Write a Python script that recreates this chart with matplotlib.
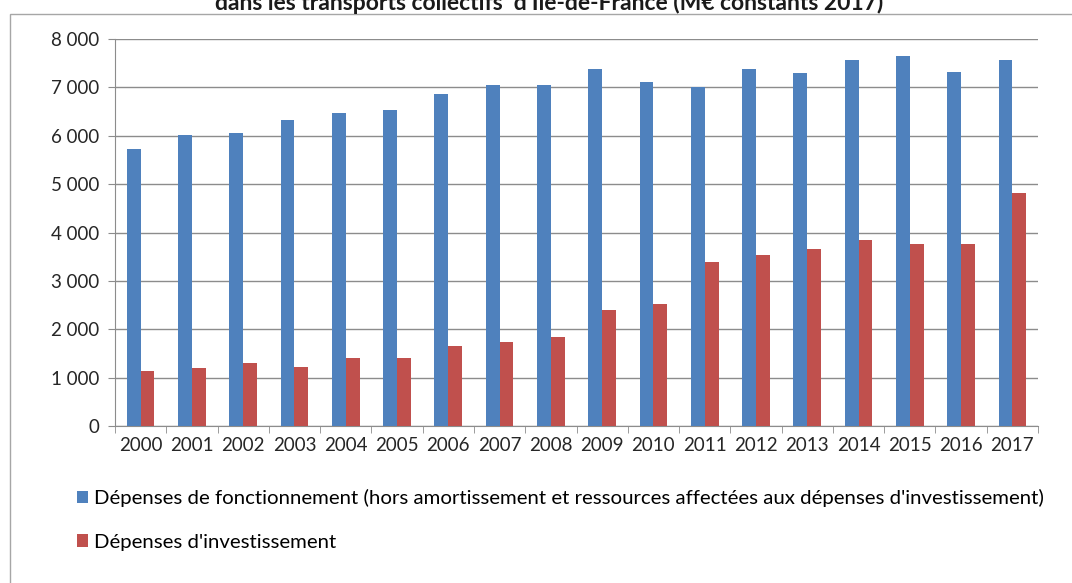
import matplotlib.pyplot as plt
from matplotlib.patches import Rectangle
import numpy as np

plt.rcParams['font.family'] = ['Lato', 'DejaVu Sans']

years = [str(y) for y in range(2000, 2018)]
fonctionnement = [5730, 6010, 6050, 6320, 6480, 6535, 6867, 7046, 7046,
                  7370, 7101, 7005, 7370, 7295, 7557, 7646, 7315, 7557]
investissement = [1140, 1195, 1300, 1228, 1415, 1415, 1656, 1739, 1850,
                  2388, 2519, 3382, 3540, 3658, 3845, 3762, 3762, 4810]
yticks = [0, 1000, 2000, 3000, 4000, 5000, 6000, 7000, 8000]
label_fonct = ("Dépenses de fonctionnement (hors amortissement et ressources "
               "affectées aux dépenses d'investissement)")
label_inv = "Dépenses d'investissement"
title = "dans les transports collectifs  d'Île-de-France (M€ constants 2017)"

blue = '#4F81BD'
red = '#C0504D'
grid = '#8C8C8C'
W, H = 1072, 583

fig = plt.figure(figsize=(W / 100, H / 100), dpi=100)
ax = fig.add_axes([115 / W, 1 - 426 / H, (1038 - 115) / W, (426 - 39) / H])

x = np.arange(len(years))
bw = 0.27
b1 = ax.bar(x - bw / 2, fonctionnement, bw, color=blue, label=label_fonct, zorder=3)
b2 = ax.bar(x + bw / 2, investissement, bw, color=red, label=label_inv, zorder=3)

ax.set_xlim(-0.5, len(years) - 0.5)
ax.set_ylim(0, 8000)
ax.set_yticks(yticks)
ax.set_yticklabels([f"{v:,}".replace(',', ' ') for v in yticks])
ax.set_xticks(x)
ax.set_xticklabels(years)
ax.set_xticks(np.arange(len(years) + 1) - 0.5, minor=True)
ax.tick_params(axis='x', which='major', length=0, pad=8, labelsize=13.5, labelcolor='#262626')
ax.tick_params(axis='x', which='minor', length=5, color=grid, direction='out')
ax.tick_params(axis='y', length=5, color=grid, pad=6, labelsize=13.5, labelcolor='#262626')
ax.yaxis.grid(True, color=grid, linewidth=1, zorder=0)
for s in ['top', 'right']:
    ax.spines[s].set_visible(False)
for s in ['left', 'bottom']:
    ax.spines[s].set_color(grid)

fig.legend(handles=[b1, b2], loc='center left', bbox_to_anchor=(69 / W, 1 - 520 / H),
           frameon=False, fontsize=14.7, handlelength=0.55, handleheight=0.55,
           handletextpad=0.25, labelspacing=1.3, borderaxespad=0)

fig.patches.append(Rectangle((10 / W, -0.01), 1.1, 1 - 14 / H + 0.01, transform=fig.transFigure,
                             fill=False, edgecolor='#A6A6A6', linewidth=1))
fig.text(549 / W, 1 - 10 / H, title, ha='center', va='baseline', fontsize=16.5,
         fontweight='bold', color='#1a1a1a')

fig.savefig('out.png', dpi=100)
